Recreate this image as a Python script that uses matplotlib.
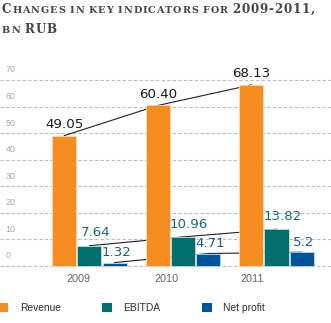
import numpy as np
import matplotlib
matplotlib.use("Agg")
import matplotlib.pyplot as plt
from matplotlib.patches import Patch

years = ['2009', '2010', '2011']
revenue = [49.05, 60.40, 68.13]
ebitda = [7.64, 10.96, 13.82]
net_profit = [1.32, 4.71, 5.2]
revenue_labels = ['49.05', '60.40', '68.13']
ebitda_labels = ['7.64', '10.96', '13.82']
net_labels = ['1.32', '4.71', '5.2']
series_names = ['Revenue', 'EBITDA', 'Net profit']
y_ticks = [0, 10, 20, 30, 40, 50, 60, 70]

ORANGE = '#F68D20'
TEAL = '#006F6E'
BLUE = '#00559A'

W, H = 331, 323
fig = plt.figure(figsize=(W / 100, H / 100), dpi=100)

# axes span the full width; y from -1 to 71
ax = fig.add_axes([0, 54.3 / H, 1, 191.4 / H])
ax.set_xlim(-0.957, 2.583)
ax.set_ylim(-1, 71)
ax.axis('off')

x = np.arange(len(years))
off = 0.27
bw = 0.257

for v in y_ticks:
    ax.axhline(v, color='#bdbdbd', lw=0.8, ls=(0, (3, 2)), zorder=0)
    ax.annotate(str(v), xy=(0, v), xycoords=('axes fraction', 'data'),
                xytext=(4, 4), textcoords='offset points', fontsize=6.4,
                color='#a8a8a8', family='Liberation Sans', va='bottom', ha='left')

# trend lines behind the bars
ax.plot(x - off, revenue, color='#222222', lw=0.8, zorder=1)
ax.plot(x, ebitda, color='#222222', lw=0.8, zorder=1)
ax.plot(x + off, net_profit, color='#222222', lw=0.8, zorder=1)

ax.bar(x - off, revenue, bw, color=ORANGE, edgecolor='#fbe3c8', lw=0.5, zorder=2)
ax.bar(x, ebitda, bw, color=TEAL, edgecolor='#d8e8e8', lw=0.5, zorder=2)
ax.bar(x + off, net_profit, bw, color=BLUE, edgecolor='#d5e2ee', lw=0.5, zorder=2)

lab_kw = dict(textcoords='offset points', ha='center', va='bottom',
              fontsize=9.6, family='DejaVu Sans', zorder=3)
for i in range(len(years)):
    ax.annotate(revenue_labels[i], (x[i] - off, revenue[i]), xytext=(0, 3.5),
                color='#1a1a1a', **lab_kw)
    ax.annotate(ebitda_labels[i], (x[i], ebitda[i]), xytext=(4.5, 4.5),
                color='#16706f', **lab_kw)
    ax.annotate(net_labels[i], (x[i] + off, net_profit[i]), xytext=(1.5, 2.5),
                color='#1c5b94', **lab_kw)

# year labels sit a bit left of the group centres in the original
year_x = [-0.118, 0.823, 1.743]
for xi, yr in zip(year_x, years):
    ax.annotate(yr, xy=(xi, 0), xycoords=('data', 'axes fraction'),
                xytext=(0, -4), textcoords='offset points', ha='center', va='top',
                fontsize=7.8, color='#666666', family='Liberation Sans')

handles = [Patch(facecolor=c, edgecolor='none') for c in (ORANGE, TEAL, BLUE)]
fig.legend(handles, series_names, loc='lower left', bbox_to_anchor=(-0.004, 0.031),
           ncol=3, frameon=False, handlelength=0.95, handleheight=0.95,
           handletextpad=1.1, columnspacing=4.05, borderpad=0, borderaxespad=0,
           prop={'family': 'Liberation Sans', 'size': 7.4}, labelcolor='#333333')

# title in fake small caps, letter by letter with some tracking
renderer = fig.canvas.get_renderer()
BIG, SMALL = 8.6, 6.9
TRACK = 0.9
title_lines = [
    [('C', BIG), ('HANGES IN KEY INDICATORS FOR ', SMALL), ('2009-2011,', BIG)],
    [('BN ', SMALL), ('RUB', BIG)],
]
baselines = [310, 290]
for segs, yb in zip(title_lines, baselines):
    xp = 2
    for s, size in segs:
        for ch in s:
            if ch == ' ':
                xp += size * 0.55
                continue
            t = fig.text(xp / W, yb / H, ch, fontsize=size, family='DejaVu Serif',
                         weight='bold', color='#454545', ha='left', va='baseline')
            xp += t.get_window_extent(renderer).width + TRACK

fig.savefig('out.png', dpi=100)
